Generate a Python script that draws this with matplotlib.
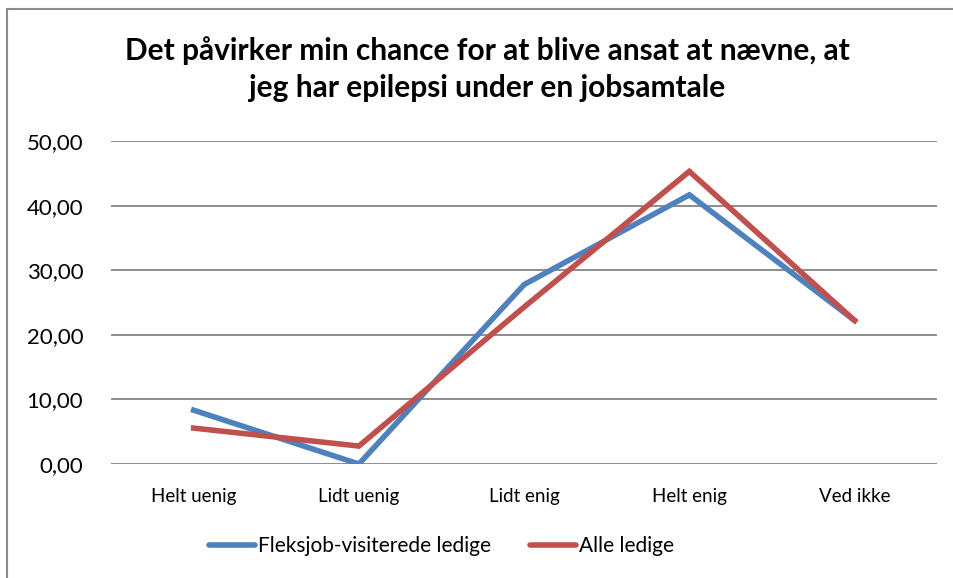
import matplotlib
matplotlib.use('Agg')
from matplotlib import pyplot as plt
from matplotlib.patches import Rectangle
from matplotlib.ticker import FuncFormatter

plt.rcParams['font.family'] = ['Lato', 'DejaVu Sans']

categories = ['Helt uenig', 'Lidt uenig', 'Lidt enig', 'Helt enig', 'Ved ikke']
fleksjob = [8.33, 0.0, 27.78, 41.67, 22.22]
alle = [5.56, 2.78, 24.3, 45.3, 22.22]
title = 'Det påvirker min chance for at blive ansat at nævne, at\njeg har epilepsi under en jobsamtale'

blue = '#4F81BD'
red = '#C0504D'

fig = plt.figure(figsize=(9.54, 5.78), dpi=100)
ax = fig.add_axes([0.1164, 0.1972, 0.866, 0.5588])

x = range(len(categories))
ax.plot(x, fleksjob, color=blue, lw=4, solid_joinstyle='miter',
        label='Fleksjob-visiterede ledige')
ax.plot(x, alle, color=red, lw=4, solid_joinstyle='miter',
        label='Alle ledige')

ax.set_xlim(-0.5, len(categories) - 0.5)
ax.set_ylim(0, 50)
ax.set_yticks(range(0, 51, 10))
ax.yaxis.set_major_formatter(FuncFormatter(lambda v, p: f'{v:.2f}'.replace('.', ',')))
ax.set_xticks(list(x))
ax.set_xticklabels(categories, fontsize=13.5)
ax.tick_params(axis='y', labelsize=16, length=0, pad=20)
ax.tick_params(axis='x', length=0, pad=17)
ax.grid(axis='y', color='#8c8c8c', lw=1.4)
ax.set_axisbelow(True)
for s in ax.spines.values():
    s.set_visible(False)

fig.text(0.511, 0.88, title, ha='center', va='center', fontsize=21.5,
         fontweight='bold', linespacing=1.4)

leg = fig.legend(loc='center', bbox_to_anchor=(0.463, 0.055), ncol=2,
                 frameon=False, fontsize=15, handlelength=2.2,
                 handletextpad=0.15, columnspacing=1.9)
for h in leg.get_lines():
    h.set_linewidth(4)
    h.set_solid_capstyle('round')

fig.patches.append(Rectangle((7 / 954, -0.1), 1.2, 1 - 9 / 578 + 0.1,
                             transform=fig.transFigure, fill=False,
                             edgecolor='#8c8c8c', lw=1.5))

plt.savefig('out.png', dpi=100)
plt.close()
